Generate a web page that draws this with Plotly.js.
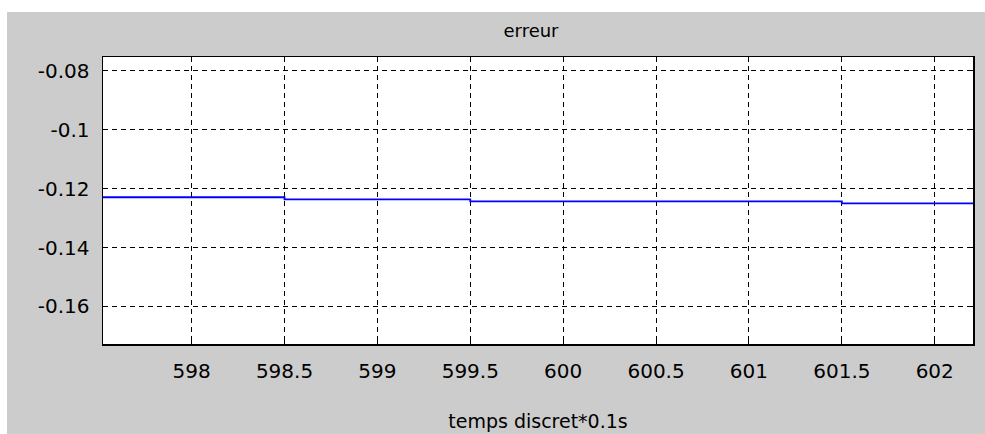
<!DOCTYPE html>
<html>
<head>
<meta charset="utf-8">
<script src="https://cdn.plot.ly/plotly-3.0.1.min.js"></script>
<style>
  html, body { margin: 0; padding: 0; background: #ffffff; }
  #chart { width: 985px; height: 434px; }
</style>
</head>
<body>
<div id="chart"></div>
<script>
// Error signal, held between samples (step plot)
const timeSteps = [597.5, 598.5, 599.0, 599.5, 600.0, 600.5, 601.0, 601.5, 602.0, 602.25];
const errorValues = [-0.1229, -0.1236, -0.1236, -0.1243, -0.1243, -0.1243, -0.1243, -0.1250, -0.1250, -0.1250];

const xTickVals = [598, 598.5, 599, 599.5, 600, 600.5, 601, 601.5, 602];
const xTickText = ['598', '598.5', '599', '599.5', '600', '600.5', '601', '601.5', '602'];
const yTickVals = [-0.16, -0.14, -0.12, -0.1, -0.08];
const yTickText = ['-0.16', '-0.14', '-0.12', '-0.1', '-0.08'];

const W = 985, H = 434;
const L = 103, R = 12, T = 57, B = 90;
const pw = W - L - R, ph = H - T - B;
const px = v => (v - L) / pw;          // pixel x -> paper x
const py = v => (H - B - v) / ph;      // pixel y -> paper y

const tickFont = { family: 'DejaVu Sans, sans-serif', size: 20, color: '#000000' };

const trace = {
  x: timeSteps,
  y: errorValues,
  type: 'scatter',
  mode: 'lines',
  line: { color: '#0000ff', width: 1.8, shape: 'hv' },
  hoverinfo: 'skip'
};

const axisCommon = {
  showline: true,
  linecolor: '#000000',
  linewidth: 1.5,
  mirror: 'ticks',
  ticks: 'inside',
  ticklen: 5,
  tickwidth: 1,
  tickcolor: '#000000',
  showgrid: true,
  gridcolor: '#000000',
  gridwidth: 1,
  griddash: '5px,4px',
  zeroline: false,
  tickfont: tickFont,
  tickmode: 'array'
};

const layout = {
  width: W,
  height: H,
  margin: { l: L, r: R, t: T, b: B, pad: 0 },
  paper_bgcolor: '#cccccc',
  plot_bgcolor: '#ffffff',
  showlegend: false,
  title: {
    text: 'erreur',
    font: { family: 'DejaVu Sans, sans-serif', size: 18, color: '#000000' },
    x: px(531), xref: 'paper', xanchor: 'center',
    y: 1 - 31 / H, yref: 'container', yanchor: 'middle'
  },
  xaxis: Object.assign({}, axisCommon, {
    range: [597.523, 602.206],
    tickvals: xTickVals,
    ticktext: xTickText,
    ticklabelstandoff: 8,
    title: {
      text: 'temps discret*0.1s',
      font: { family: 'DejaVu Sans, sans-serif', size: 19, color: '#000000' },
      standoff: 33
    }
  }),
  yaxis: Object.assign({}, axisCommon, {
    range: [-0.17275, -0.07525],
    tickvals: yTickVals,
    ticktext: yTickText,
    ticklabelstandoff: 8
  }),
  shapes: [
    // thin white border round the figure window
    { type: 'rect', xref: 'paper', yref: 'paper', x0: px(0), x1: px(W), y0: py(0), y1: py(12),
      fillcolor: '#ffffff', line: { width: 0 }, layer: 'above' },
    { type: 'rect', xref: 'paper', yref: 'paper', x0: px(0), x1: px(7), y0: py(0), y1: py(H),
      fillcolor: '#ffffff', line: { width: 0 }, layer: 'above' }
  ]
};

Plotly.newPlot('chart', [trace], layout, { displayModeBar: false, staticPlot: true });
</script>
</body>
</html>
